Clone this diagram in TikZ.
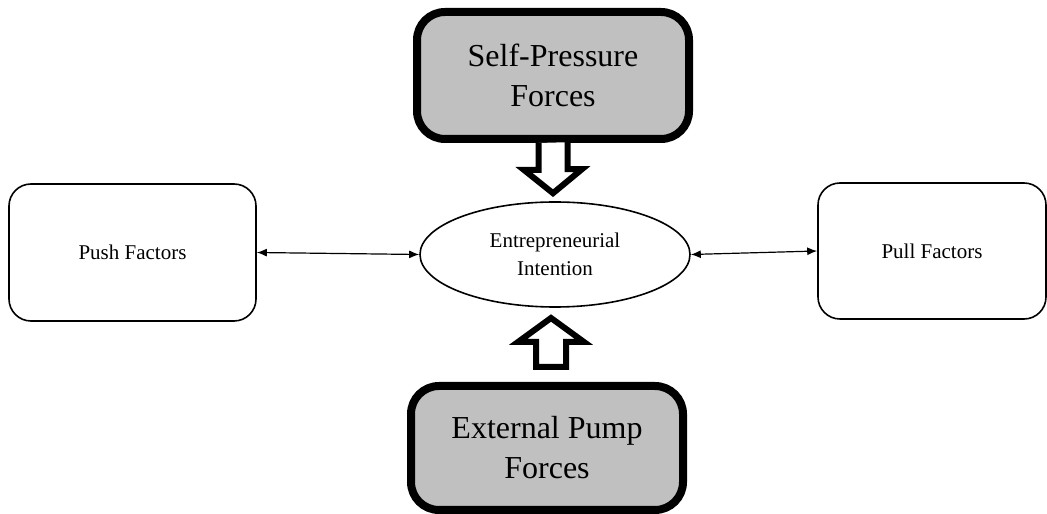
\documentclass[tikz,border=0pt]{standalone}
\usepackage{fontspec}
\setmainfont{Liberation Serif}
\usetikzlibrary{positioning,arrows.meta,shapes.geometric,calc}
\definecolor{forcegray}{RGB}{192,192,192}

\begin{document}
\begin{tikzpicture}[x=1pt,y=1pt,
  factor/.style={draw,line width=1.6pt,rounded corners=22pt,minimum height=137pt,font=\fontsize{21}{28}\selectfont},
  force/.style={draw,line width=8pt,rounded corners=28pt,fill=forcegray,minimum width=272pt,align=center,font=\fontsize{32}{40}\selectfont},
  intent/.style={draw,ellipse,line width=1.6pt,minimum width=270pt,minimum height=105pt,inner sep=0pt,align=center,font=\fontsize{21}{28}\selectfont},
  link/.style={line width=1.2pt,{Latex[length=10pt,width=8pt]}-{Latex[length=10pt,width=8pt]}},
  blockarrow/.style={draw,fill=white,line width=6pt,line join=miter}]

\useasboundingbox (0,0) rectangle (1047,514);

\node[intent] (ell) at (555,259.5) {Entrepreneurial\\Intention};
\node[factor,minimum width=247pt] (push) at (132.5,261.5) {Push Factors};
\node[factor,minimum width=228pt,minimum height=136pt] (pull) at (932,263) {Pull Factors};

\node[force,minimum height=127pt] (top) at (553,438.5) {Self-Pressure\\Forces};
\draw[blockarrow] ([xshift=-14.5pt]top.south) -- ++(0,-27) -- ++(-14.5,0) -- ($(top.south |- ell.north)+(0,8)$) -- ++(29,24) -- ++(-14.5,0) -- ++(0,27);

\node[force,minimum height=124pt] (bot) at (547,66) {External Pump\\Forces};
\draw[blockarrow] ($(bot.north)+(-11,15)$) -- ++(0,25) -- ++(-18,0) -- ++(33,24) -- ++(33,-24) -- ++(-18,0) -- ++(0,-25) -- cycle;

\draw[link] (push.east) -- (ell.west);
\draw[link] (ell.east) -- (pull.west);

\end{tikzpicture}
\end{document}
